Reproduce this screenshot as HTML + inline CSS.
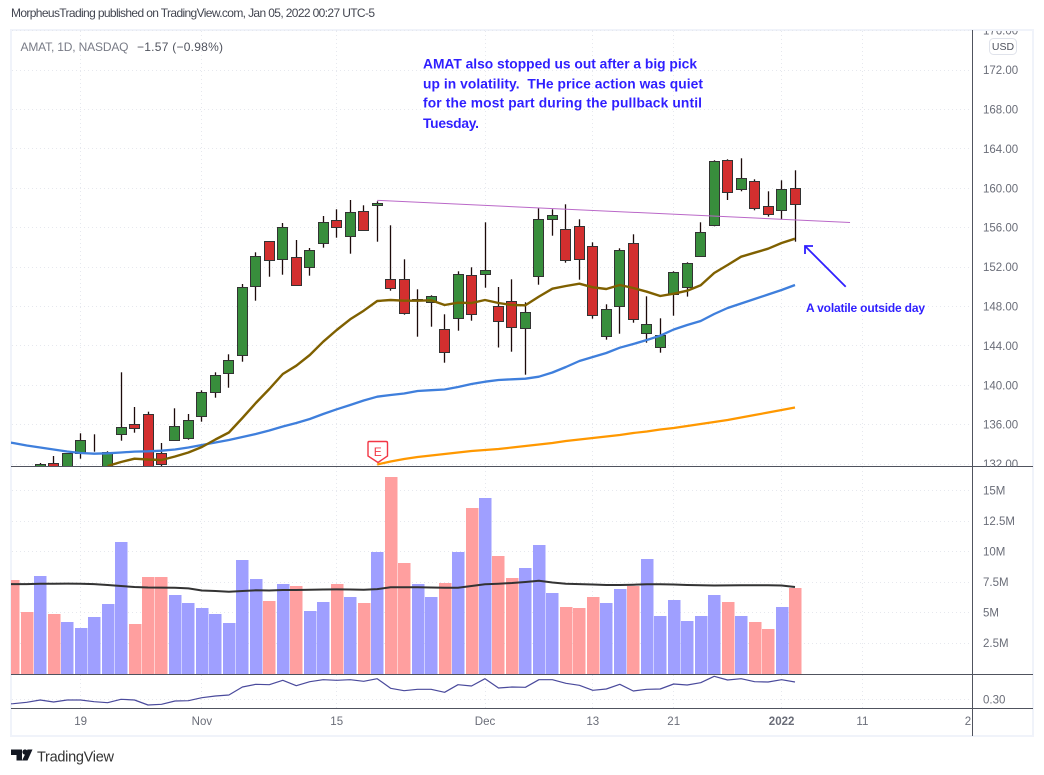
<!DOCTYPE html>
<html lang="en">
<head>
<meta charset="utf-8">
<title>AMAT daily chart</title>
<style>
html,body{margin:0;padding:0;background:#fff;}
body{width:1044px;height:775px;overflow:hidden;}
svg{display:block;font-family:"Liberation Sans",sans-serif;}
</style>
</head>
<body>
<svg id="chart" width="1044" height="775" viewBox="0 0 1044 775">
  <defs>
    <clipPath id="clipPrice"><rect x="11" y="31" width="961" height="435.5"/></clipPath>
    <clipPath id="clipVolume"><rect x="11" y="467" width="961" height="207"/></clipPath>
    <clipPath id="clipIndicator"><rect x="11" y="675" width="961" height="33"/></clipPath>
    <clipPath id="clipAxis"><rect x="973" y="31" width="59" height="436"/></clipPath>
    <clipPath id="clipTime"><rect x="11" y="709" width="961" height="26"/></clipPath>
  </defs>

  <text x="11" y="17" font-size="12" fill="#434651" textLength="364" lengthAdjust="spacing">MorpheusTrading published on TradingView.com, Jan 05, 2022 00:27 UTC-5</text>
  <rect x="11" y="30" width="1022" height="706" fill="#fff" stroke="#f0f3fa" stroke-width="2"/>

  <g id="grid"></g>
  <g id="candles" clip-path="url(#clipPrice)"></g>
  <g id="priceLines" clip-path="url(#clipPrice)"></g>
  <g id="volumes" clip-path="url(#clipVolume)"></g>
  <g id="indicator" clip-path="url(#clipIndicator)"></g>

  <line x1="11" y1="466.5" x2="1033" y2="466.5" stroke="#50535e" stroke-width="1"/>
  <line x1="11" y1="674.5" x2="1033" y2="674.5" stroke="#50535e" stroke-width="1"/>
  <line x1="11" y1="708.5" x2="1033" y2="708.5" stroke="#50535e" stroke-width="1"/>
  <line x1="972.5" y1="30" x2="972.5" y2="736" stroke="#50535e" stroke-width="1"/>

  <g id="priceAxis" clip-path="url(#clipAxis)"></g>
  <g id="volumeAxis"></g>
  <g id="timeAxis" clip-path="url(#clipTime)"></g>

  <text x="983" y="703.5" font-size="11.5" fill="#6a6d78">0.30</text>

  <rect x="989.5" y="38.5" width="27" height="16" rx="4" fill="#fff" stroke="#e0e3eb"/>
  <text x="1003" y="50" font-size="10.5" fill="#50535e" text-anchor="middle">USD</text>

  <text x="20.5" y="51" font-size="12" fill="#787b86" textLength="108" lengthAdjust="spacing">AMAT, 1D, NASDAQ</text>
  <text x="137" y="51" font-size="12" fill="#50535e" textLength="86" lengthAdjust="spacing">−1.57 (−0.98%)</text>

  <g font-weight="700" font-size="13.8" fill="#2f1fff">
    <text x="423" y="68.5" textLength="274" lengthAdjust="spacing">AMAT also stopped us out after a big pick</text>
    <text x="423" y="88.5" textLength="280" lengthAdjust="spacing" xml:space="preserve">up in volatility.  THe price action was quiet</text>
    <text x="423" y="107.5" textLength="279" lengthAdjust="spacing">for the most part during the pullback until</text>
    <text x="423" y="128" textLength="56" lengthAdjust="spacing">Tuesday.</text>
  </g>

  <g stroke="#2f1fff" stroke-width="1.8" fill="none">
    <line x1="845.7" y1="286.7" x2="805" y2="246"/>
    <polyline points="805,254 805,246 813,246"/>
  </g>
  <text x="806" y="312" font-size="12" font-weight="700" fill="#2f1fff" textLength="119" lengthAdjust="spacing">A volatile outside day</text>

  <g>
    <path d="M369,441.5 H386 Q387.5,441.5 387.5,443 V456 L378,462.5 L368,456 V443 Q368,441.5 369,441.5 Z" fill="#fff" stroke="#f23645" stroke-width="1.4"/>
    <text x="377.7" y="456" font-size="12" fill="#f23645" text-anchor="middle">E</text>
  </g>

  <g>
    <polygon points="11,749.5 22,749.5 22,760.5 16.5,760.5 16.5,755 11,755" fill="#131722"/>
    <circle cx="25" cy="752" r="2.6" fill="#131722"/>
    <polygon points="27.5,749.5 32.5,749.5 27.5,760.5 22,760.5" fill="#131722"/>
    <text x="37" y="761.5" font-size="14.5" fill="#333" textLength="77" lengthAdjust="spacing">TradingView</text>
  </g>
</svg>

<script>
const opens = [131.4,131.4,131.5,132.08,131.0,133.1,133.78,131.2,135.03,136.04,137.06,133.1,134.42,134.58,136.85,139.29,141.22,143.05,150.05,154.62,152.79,153.0,151.98,154.42,156.75,155.13,157.66,158.27,150.76,150.76,148.64,148.43,145.69,146.8,151.17,151.27,148.02,148.53,145.79,151.07,156.85,155.84,156.14,154.11,144.97,148.02,154.42,145.28,143.86,149.24,149.95,153.1,156.24,162.84,159.9,160.71,158.17,157.77,160];
const closes = [131.2,131.2,131.91,131.5,133.1,134.42,133.81,133.2,135.74,135.63,131.5,131.98,135.84,136.45,139.29,141.02,142.54,149.95,153.1,152.69,156.04,150.15,153.71,156.55,156.04,157.56,155.74,158.48,149.85,147.31,148.66,149.04,143.35,151.27,147.21,151.68,146.5,145.89,147.41,156.85,157.26,152.69,152.79,147.11,147.72,153.71,146.7,146.19,145.08,151.47,152.39,155.53,162.74,159.59,161.02,157.97,157.36,159.9,158.38];
const highs = [131.6,131.6,132.11,132.82,133.1,135.13,135.03,133.3,141.32,137.8,137.32,134.14,137.66,137.09,139.49,141.32,143.15,150.28,153.5,154.62,156.48,154.75,153.94,157.19,157.87,158.81,158.27,158.68,156.24,152.79,149.75,149.14,147.21,151.57,151.98,156.55,149.98,150.76,148.43,157.97,157.87,158.38,156.85,154.52,148.22,153.91,155.33,149.04,146.8,151.57,152.49,156.55,162.84,162.94,163.05,160.91,159.7,160.81,161.83];
const lows = [131,131,131,131.2,130.8,132.55,133.26,131,134.38,135.19,131.2,131.7,134.42,134.48,136.3,138.74,139.76,142.4,148.59,151.03,151.23,150.15,151.13,153.97,154.98,153.36,155.74,154.58,149.6,147.17,144.93,145.95,142.29,145.54,146.56,149.91,143.84,143.41,141.08,150.21,155.19,152.45,150.72,146.76,144.63,145.24,146.36,144.32,143.31,147.07,149,153.1,156.14,158.81,159.7,157.77,157.13,156.82,154.58];

const sma20Start = 7;
const sma20 = [131.81,132.21,132.55,132.47,132.42,132.77,133.18,133.74,134.5,135.21,136.68,138.2,139.62,141.15,141.99,143.08,144.43,145.61,146.7,147.57,148.56,148.66,148.59,148.59,148.63,148.15,148.39,148.36,148.66,148.36,148.15,148.12,149,149.81,150.08,150.31,149.95,149.78,150.18,149.88,149.5,149.07,149.3,149.6,150.15,151.4,152.21,153.06,153.46,153.87,154.45,154.88];
const sma50Start = -1;
const sma50 = [134.36,134.14,133.89,133.69,133.48,133.28,133.13,133.06,133.1,133.18,133.27,133.3,133.36,133.48,133.69,133.94,134.19,134.45,134.75,135.06,135.41,135.82,136.17,136.58,137.09,137.56,138.0,138.46,138.84,139.02,139.17,139.42,139.5,139.57,139.83,140.13,140.37,140.54,140.61,140.67,140.87,141.3,141.86,142.47,142.87,143.28,143.82,144.19,144.6,145.04,145.66,146.12,146.53,147.24,147.85,148.3,148.76,149.22,149.68,150.18];
const sma200Start = 27;
const sma200 = [131.96,132.26,132.52,132.72,132.87,133.03,133.18,133.33,133.43,133.53,133.69,133.84,133.99,134.14,134.35,134.5,134.65,134.8,134.95,135.16,135.31,135.51,135.66,135.87,136.07,136.27,136.48,136.73,136.98,137.24,137.49,137.75];

const trendBars = [27, 62.08];
const trendPrices = [158.78, 156.53];

const volumes = [7.67,5.05,8.0,4.89,4.23,3.74,4.64,5.7,10.79,4.07,7.92,7.92,6.44,5.79,5.38,4.89,4.15,9.31,7.75,5.95,7.34,7.18,5.13,5.87,7.34,6.28,5.79,9.97,16.11,9.07,7.34,6.28,7.43,9.97,13.57,14.39,9.64,7.84,8.66,10.54,6.61,5.46,5.38,6.28,5.79,6.93,7.18,9.39,4.72,6.03,4.31,4.72,6.44,5.87,4.72,4.23,3.66,5.46,7.02];
const volumeMaStart = -1;
const volumeMa = [7.33,7.34,7.34,7.36,7.37,7.38,7.37,7.34,7.26,7.18,7.1,7.06,7.05,7.03,6.98,6.81,6.77,6.71,6.77,6.83,6.81,6.85,6.85,6.87,6.89,6.9,6.89,6.87,6.93,7.07,7.07,7.07,7.06,7.04,7.04,7.18,7.32,7.37,7.43,7.51,7.61,7.47,7.37,7.34,7.3,7.26,7.26,7.29,7.32,7.32,7.3,7.26,7.24,7.22,7.23,7.24,7.25,7.24,7.22,7.1];
const indicatorStart = -1;
const indicatorValues = [0.25,0.256,0.27,0.293,0.273,0.293,0.293,0.276,0.266,0.30,0.293,0.243,0.25,0.283,0.286,0.316,0.333,0.343,0.423,0.45,0.446,0.49,0.436,0.476,0.496,0.49,0.496,0.48,0.506,0.41,0.386,0.40,0.40,0.37,0.446,0.433,0.506,0.413,0.423,0.42,0.496,0.496,0.46,0.44,0.39,0.403,0.45,0.383,0.40,0.403,0.453,0.443,0.466,0.53,0.493,0.506,0.476,0.473,0.496,0.473];

const priceTicks = [176,172,168,164,160,156,152,148,144,140,136,132];
const volumeTicks = [15,12.5,10,7.5,5,2.5];
const volumeTickLabels = ['15M','12.5M','10M','7.5M','5M','2.5M'];
const timeTickBars = [5,14,24,35,43,49,57,63];
const timeTickLabels = ['19','Nov','15','Dec','13','21','2022','11'];
const indicatorGridValue = 0.30;

const NS = 'http://www.w3.org/2000/svg';
const xBar = i => 13.2 + 13.48 * i;
const yPrice = p => 188.3 + (160 - p) * 9.85;
const yVolume = v => 673.6 - v * 12.2;
const yIndicator = v => 699.3 - (v - 0.30) * 100;
const snap = v => Math.round(v - 0.5) + 0.5;

function make(parent, tag, props, text) {
  const el = document.createElementNS(NS, tag);
  for (const k in props) el.setAttribute(k, props[k]);
  if (text !== undefined) el.textContent = text;
  parent.appendChild(el);
  return el;
}
function linePoints(values, start, yFn) {
  return values.map((v, i) => xBar(i + start).toFixed(1) + ',' + yFn(v).toFixed(1)).join(' ');
}

const gridG = document.getElementById('grid');
const gridStyle = {stroke:'#e6e8ee','stroke-width':1,'stroke-dasharray':'1 3'};
priceTicks.forEach(p => {
  const l = make(gridG, 'line', Object.assign({x1:12,x2:972,y1:snap(yPrice(p)),y2:snap(yPrice(p))}, gridStyle));
  
  
});
volumeTicks.forEach(v => {
  const l = make(gridG, 'line', Object.assign({x1:12,x2:972,y1:snap(yVolume(v)),y2:snap(yVolume(v))}, gridStyle));
  
  
});
const indGrid = make(gridG, 'line', Object.assign({x1:12,x2:972,y1:snap(yIndicator(indicatorGridValue)),y2:snap(yIndicator(indicatorGridValue))}, gridStyle));


timeTickBars.forEach(b => {
  const l = make(gridG, 'line', Object.assign({x1:snap(xBar(b)),x2:snap(xBar(b)),y1:31,y2:708}, gridStyle));
  
  
});

const volG = document.getElementById('volumes');
volumes.forEach((v, i) => {
  const up = closes[i] >= opens[i];
  const x = xBar(i);
  const top = yVolume(v);
  const r = make(volG, 'rect', {x:Math.round(x - 6), y:Math.round(top), width:12.5, height:Math.round(674 - top), fill: up ? '#9f9fff' : '#ff9f9f', 'shape-rendering':'crispEdges'});
  
  
});
const volMaLine = make(volG, 'polyline', {points:linePoints(volumeMa, volumeMaStart, yVolume), fill:'none', stroke:'#333', 'stroke-width':2, 'stroke-linejoin':'round'});



const candleG = document.getElementById('candles');
opens.forEach((o, i) => {
  const c = closes[i];
  const cx = snap(xBar(i));
  const top = snap(yPrice(Math.max(o, c)));
  const bot = snap(yPrice(Math.min(o, c)));
  const wick = make(candleG, 'line', {x1:cx, x2:cx, y1:yPrice(highs[i]).toFixed(1), y2:yPrice(lows[i]).toFixed(1), stroke:'#1c0a0a', 'stroke-width':1.3});
  
  
  const body = make(candleG, 'rect', {x:cx - 5, y:top, width:10, height:Math.max(bot - top, 0), fill: c >= o ? '#388e3c' : '#d32f2f', stroke:'#333', 'stroke-width':1});
  
  
});

const lineG = document.getElementById('priceLines');
const sma200Line = make(lineG, 'polyline', {points:linePoints(sma200, sma200Start, yPrice), fill:'none', stroke:'#ff9800', 'stroke-width':2.2, 'stroke-linejoin':'round'});


const sma50Line = make(lineG, 'polyline', {points:linePoints(sma50, sma50Start, yPrice), fill:'none', stroke:'#3f7fdc', 'stroke-width':2.3, 'stroke-linejoin':'round'});


const sma20Line = make(lineG, 'polyline', {points:linePoints(sma20, sma20Start, yPrice), fill:'none', stroke:'#7f6000', 'stroke-width':2.4, 'stroke-linejoin':'round'});


const trendLine = make(lineG, 'line', {x1:xBar(trendBars[0]), y1:yPrice(trendPrices[0]), x2:xBar(trendBars[1]), y2:yPrice(trendPrices[1]), stroke:'#ba68c8', 'stroke-width':1});



const indG = document.getElementById('indicator');
const indLine = make(indG, 'polyline', {points:linePoints(indicatorValues, indicatorStart, yIndicator), fill:'none', stroke:'#4a4a9c', 'stroke-width':1.2, 'stroke-linejoin':'round'});



const priceAxisG = document.getElementById('priceAxis');
priceTicks.forEach(p => {
  const t = make(priceAxisG, 'text', {x:983, y:(yPrice(p) + 4).toFixed(1), 'font-size':11.5, fill:'#6a6d78'}, p.toFixed(2));
  
  
});
const volAxisG = document.getElementById('volumeAxis');
volumeTicks.forEach((v, i) => {
  const t = make(volAxisG, 'text', {x:983, y:(yVolume(v) + 4).toFixed(1), 'font-size':11.5, fill:'#6a6d78'}, volumeTickLabels[i]);
  
  
});
const timeG = document.getElementById('timeAxis');
timeTickBars.forEach((b, i) => {
  const label = timeTickLabels[i];
  const t = make(timeG, 'text', {x:xBar(b).toFixed(1), y:725, 'font-size':11.5, fill:'#6a6d78', 'text-anchor':'middle', 'font-weight': label === '2022' ? 700 : 400}, label);
  
  
});
const clippedTick = make(timeG, 'text', {x:968, y:725, 'font-size':11.5, fill:'#6a6d78', 'text-anchor':'middle'}, '2');


</script>
</body>
</html>
